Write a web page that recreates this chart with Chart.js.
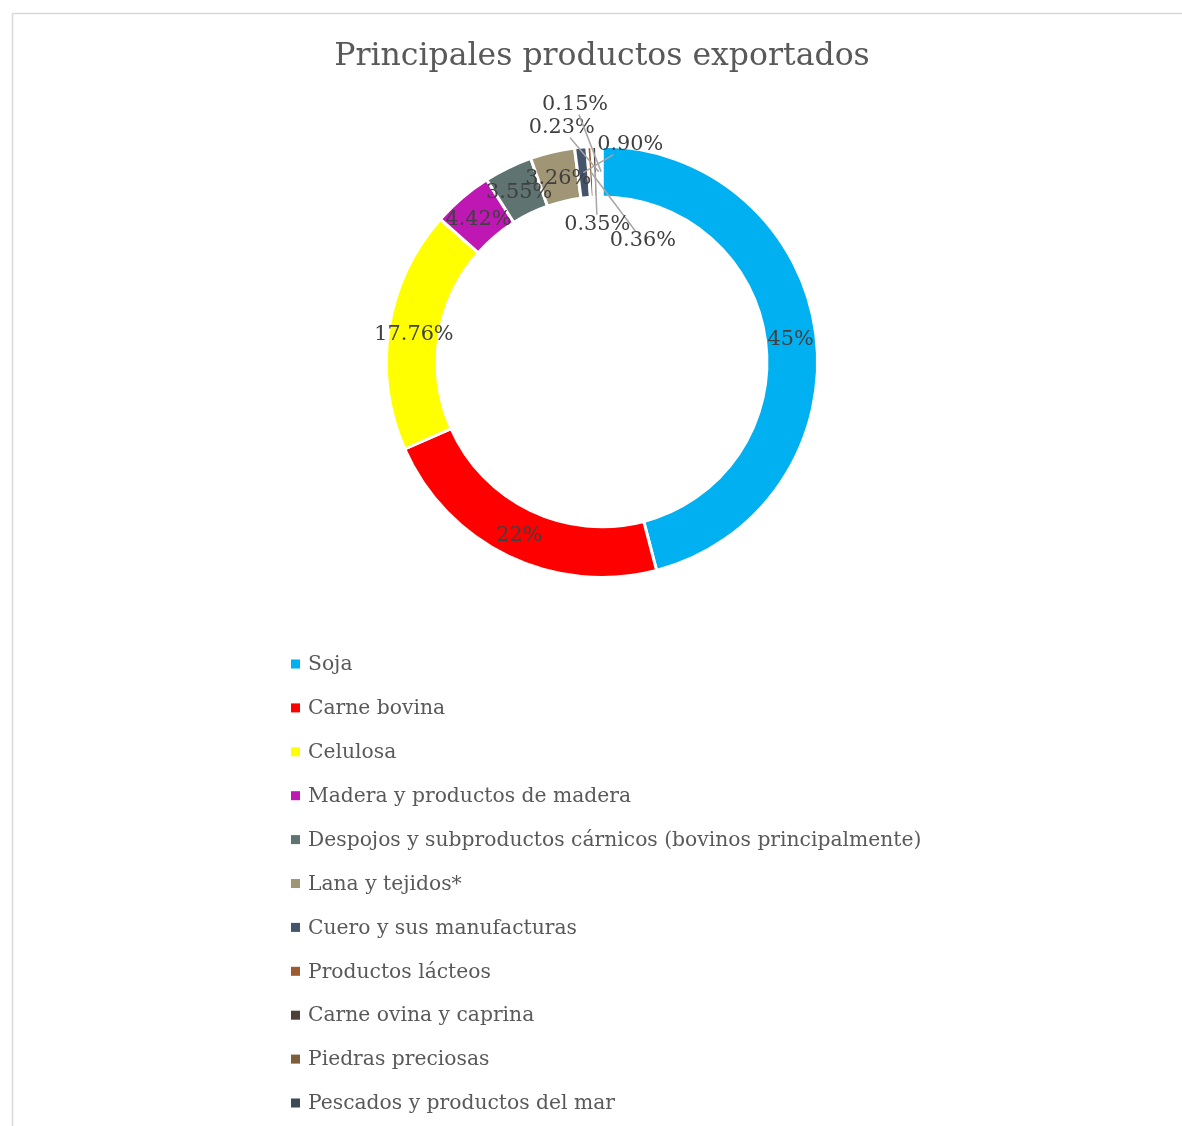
<!DOCTYPE html>
<html>
<head>
<meta charset="utf-8">
<script src="https://cdn.jsdelivr.net/npm/chart.js@4.4.0/dist/chart.umd.min.js"></script>
<style>
    html, body { margin: 0; padding: 0; background: #fff; overflow: hidden; }
    #wrap { width: 1182px; height: 1126px; position: relative; }
</style>
</head>
<body>
<div id="wrap"><canvas id="exports"></canvas></div>
<script>
// Data
const products = [
    "Soja",
    "Carne bovina",
    "Celulosa",
    "Madera y productos de madera",
    "Despojos y subproductos cárnicos (bovinos principalmente)",
    "Lana y tejidos*",
    "Cuero y sus manufacturas",
    "Productos lácteos",
    "Carne ovina y caprina",
    "Piedras preciosas",
    "Pescados y productos del mar",
];
const shares = [45, 22, 17.76, 4.42, 3.55, 3.26, 0.9, 0.36, 0.35, 0.23, 0.15];
const sliceColors = [
    "#00b0f0", "#ff0000", "#ffff00", "#bf17b4", "#5f7471", "#a09574",
    "#44546a", "#9c5a2e", "#4d4038", "#7d5e3a", "#3d4a55",
];

// label offsets (px) for the tiny slices that get leader lines
const labelOffsets = {
    6: [47, -30],
    7: [52, 67],
    8: [2, 51],
    9: [-37, -46],
    10: [-26, -69],
};

const pctText = (v) => (Number.isInteger(v) ? `${v}%` : `${v.toFixed(2)}%`);
const serif = "'DejaVu Serif', 'Liberation Serif', serif";

// frame round the chart (cut off on the right and bottom like the original)
const framePlugin = {
    id: "frame",
    beforeDraw: (chart) => {
        const ctx = chart.ctx;
        ctx.save();
        ctx.strokeStyle = "#d9d9d9";
        ctx.lineWidth = 1.5;
        ctx.beginPath();
        ctx.moveTo(12.5, chart.height);
        ctx.lineTo(12.5, 13.5);
        ctx.lineTo(chart.width, 13.5);
        ctx.stroke();
        ctx.restore();
    },
};

// percentage labels on the ring
const sliceLabels = {
    id: "sliceLabels",
    afterDatasetsDraw: (chart) => {
        const ctx = chart.ctx;
        const meta = chart.getDatasetMeta(0);
        ctx.save();
        ctx.font = `20.8px ${serif}`;
        ctx.textAlign = "center";
        ctx.textBaseline = "middle";
        meta.data.forEach((arc, i) => {
            const p = arc.getProps(["x", "y", "startAngle", "endAngle", "innerRadius", "outerRadius"], true);
            const mid = (p.startAngle + p.endAngle) / 2;
            const r = (p.innerRadius + p.outerRadius) / 2;
            const px = p.x + Math.cos(mid) * r;
            const py = p.y + Math.sin(mid) * r;
            const text = pctText(shares[i]);
            let lx = px, ly = py + 2;
            if (labelOffsets[i]) {
                lx = px + labelOffsets[i][0];
                ly = py + labelOffsets[i][1] + 2;
                // leader line from label box edge to the slice
                const hw = ctx.measureText(text).width / 2 + 2;
                const hh = 10;
                const dx = px - lx, dy = py - ly;
                const t = Math.min(
                    dx !== 0 ? hw / Math.abs(dx) : Infinity,
                    dy !== 0 ? hh / Math.abs(dy) : Infinity
                );
                ctx.strokeStyle = "#a6a6a6";
                ctx.lineWidth = 1.5;
                ctx.beginPath();
                ctx.moveTo(lx + dx * t, ly + dy * t);
                ctx.lineTo(px, py);
                ctx.stroke();
            }
            ctx.fillStyle = "#404040";
            ctx.fillText(text, lx, ly);
        });
        ctx.restore();
    },
};

// one-column legend below the ring
const columnLegend = {
    id: "columnLegend",
    afterDraw: (chart) => {
        const ctx = chart.ctx;
        const left = 291;
        const top = 664;
        const step = 43.9;
        ctx.save();
        ctx.font = `20.3px ${serif}`;
        ctx.textAlign = "left";
        ctx.textBaseline = "middle";
        chart.data.labels.forEach((label, i) => {
            const y = top + i * step;
            ctx.fillStyle = sliceColors[i];
            ctx.fillRect(left, y - 4.5, 9, 9);
            ctx.fillStyle = "#595959";
            ctx.fillText(label, left + 17, y + 1);
        });
        ctx.restore();
    },
};

const exportData = {
    labels: products,
    datasets: [
        {
            data: shares,
            backgroundColor: sliceColors,
            borderColor: "#ffffff",
            borderWidth: 3,
        },
    ],
};

const exportConfig = {
    type: "doughnut",
    data: exportData,
    options: {
        responsive: true,
        maintainAspectRatio: false,
        animation: false,
        cutout: "76.5%",
        layout: {
            // ring size comes from the height; left offset moves centre to x=602
            padding: { left: 22, right: 0, top: 0, bottom: 547 },
        },
        plugins: {
            legend: { display: false },
            tooltip: { enabled: false },
            title: {
                display: true,
                text: "Principales productos exportados",
                color: "#595959",
                font: { family: serif, size: 31.5, weight: "normal", lineHeight: 1.2 },
                padding: { top: 38, bottom: 69 },
            },
        },
    },
    plugins: [framePlugin, sliceLabels, columnLegend],
};

const exportChart = new Chart(document.getElementById("exports"), exportConfig);
</script>
</body>
</html>
